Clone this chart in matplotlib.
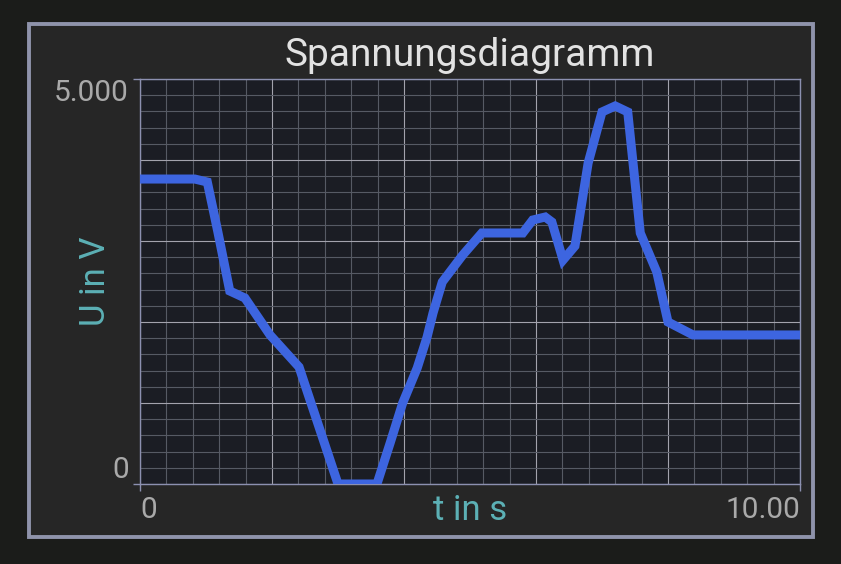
import matplotlib
matplotlib.use("Agg")
import matplotlib.pyplot as plt
from matplotlib.patches import Rectangle
from matplotlib.ticker import MultipleLocator
import numpy as np

# ---- data ----
t_values = [0.0, 0.83, 1.02, 1.18, 1.36, 1.59, 1.97, 2.41, 3.0, 3.59, 3.79, 3.98,
            4.20, 4.35, 4.44, 4.58, 4.89, 5.18, 5.80, 5.95, 6.14, 6.24, 6.41, 6.59,
            6.79, 7.0, 7.20, 7.39, 7.58, 7.83, 8.0, 8.38, 10.0]
u_values = [3765, 3765, 3728, 3111, 2383, 2296, 1840, 1444, 0, 0, 506, 1000,
            1432, 1815, 2111, 2494, 2827, 3099, 3099, 3259, 3296, 3235, 2765, 2938,
            3963, 4593, 4667, 4593, 3099, 2617, 2000, 1840, 1840]
x_major = [0, 2, 4, 6, 8, 10]
y_major = [0, 1000, 2000, 3000, 4000, 5000]
x_tick_labels = ["0", "", "", "", "", "10.00"]
y_tick_labels = ["0", "", "", "", "", "5.000"]
title_text = "Spannungsdiagramm"
x_label = "t in s"
y_label = "U in V"

W, H = 841, 564
plt.rcParams["font.family"] = ["Roboto", "DejaVu Sans"]
fig = plt.figure(figsize=(W / 100, H / 100), dpi=100, facecolor="#1b1c1a")

# panel
px0, py0, px1, py1 = 29, 24, 813, 537
panel = Rectangle((px0 / W, 1 - py1 / H), (px1 - px0) / W, (py1 - py0) / H,
                  transform=fig.transFigure, facecolor="#262626",
                  edgecolor="#8f93ab", linewidth=2.8, zorder=-10)
fig.add_artist(panel)

ax0, ay0, ax1, ay1 = 140, 79, 800, 484
ax = fig.add_axes([ax0 / W, 1 - ay1 / H, (ax1 - ax0) / W, (ay1 - ay0) / H], zorder=1)
ax.set_facecolor("#1b1d24")

ax.plot(t_values, u_values, color="#3d65e0", lw=6.5, solid_joinstyle="miter", zorder=3)

ax.set_xticks(x_major, x_tick_labels)
ax.set_yticks(y_major, y_tick_labels)
ax.xaxis.set_minor_locator(MultipleLocator(0.4))
ax.yaxis.set_minor_locator(MultipleLocator(200))
ax.set_xlim(0, 10)
ax.set_ylim(0, 5000)

ax.grid(which="major", color="#a3a3ad", lw=0.8, zorder=1)
ax.grid(which="minor", color="#565a64", lw=0.8, zorder=1)
ax.set_axisbelow(True)

ax.tick_params(which="minor", length=0)
ax.tick_params(which="major", length=0, labelsize=21.5, labelcolor="#a9a9a9",
               color="#8c90b0", width=1.0)
ax.tick_params(axis="x", pad=9)
ax.tick_params(axis="y", pad=8)

xticks = ax.xaxis.get_major_ticks()
for tk in (xticks[0], xticks[-1]):
    tk.tick1line.set_markersize(5)
yticks = ax.yaxis.get_major_ticks()
for tk in (yticks[0], yticks[-1]):
    tk.tick1line.set_markersize(5)

xl = ax.get_xticklabels()
xl[0].set_ha("left")
xl[-1].set_ha("right")
yl = ax.get_yticklabels()
yl[0].set_va("bottom")
yl[-1].set_va("top")

for s in ax.spines.values():
    s.set_color("#8c90b0")
    s.set_linewidth(1.0)

ax.set_title(title_text, color="#e2e2e2", fontsize=28, pad=9)
ax.set_xlabel(x_label, color="#5cb0b5", fontsize=25)
ax.set_ylabel(y_label, color="#5cb0b5", fontsize=25)
ax.xaxis.set_label_coords(0.5, -0.024)
ax.yaxis.set_label_coords(-0.042, 0.5)

fig.savefig("out.png", dpi=100, facecolor=fig.get_facecolor())
